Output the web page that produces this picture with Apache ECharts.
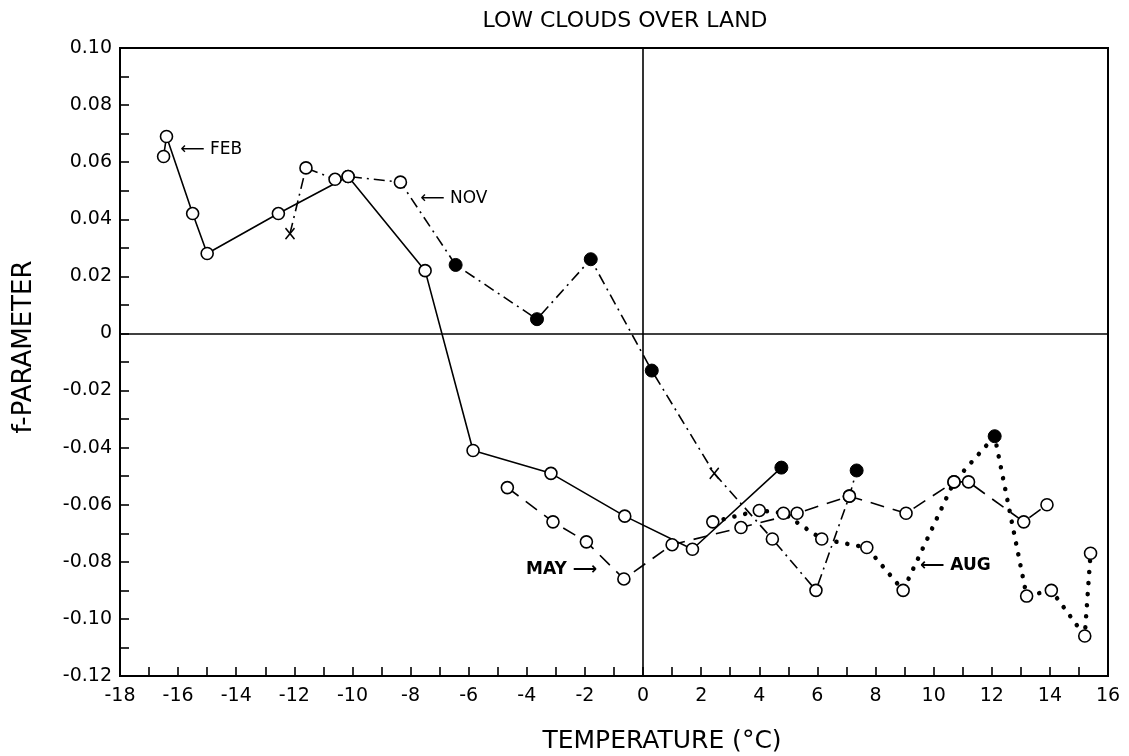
<!DOCTYPE html>
<html>
<head>
<meta charset="utf-8">
<title>Low clouds over land</title>
<script src="https://cdn.jsdelivr.net/npm/echarts@6/dist/echarts.min.js"></script>
<style>
  html, body { margin: 0; padding: 0; background: #fff; }
  #chart { width: 1129px; height: 756px; }
</style>
</head>
<body>
<div id="chart"></div>
<script>
// f-parameter of low clouds over land against temperature, four months.
// Marker kinds: 'open' = open circle, 'solid' = filled circle, 'cross' = x.

const febTemp = [-16.5, -16.4, -15.5, -15.0, -12.55, -10.15, -7.5, -5.85, -3.17, -0.63, 1.7, 4.76];
const febF    = [0.062, 0.069, 0.042, 0.028, 0.042, 0.055, 0.022, -0.041, -0.049, -0.064, -0.0756, -0.047];
const febMark = ['open', 'open', 'open', 'open', 'open', 'open', 'open', 'open', 'open', 'open', 'open', 'solid'];

const novTemp = [-12.15, -11.6, -10.6, -10.15, -8.35, -6.45, -3.65, -1.8, 0.3, 2.45, 4.45, 5.95, 7.1, 7.35];
const novF    = [0.035, 0.058, 0.054, 0.055, 0.053, 0.024, 0.005, 0.026, -0.013, -0.049, -0.072, -0.090, -0.057, -0.048];
const novMark = ['cross', 'open', 'open', 'open', 'open', 'solid', 'solid', 'solid', 'solid', 'cross', 'open', 'open', 'open', 'solid'];

const mayTemp = [-4.67, -3.1, -1.95, -0.66, 1.0, 3.37, 5.3, 7.1, 9.05, 10.7, 11.2, 13.1, 13.9];
const mayF    = [-0.054, -0.066, -0.073, -0.086, -0.074, -0.068, -0.063, -0.057, -0.063, -0.052, -0.052, -0.066, -0.060];
const mayMark = ['open', 'open', 'open', 'open', 'open', 'open', 'open', 'open', 'open', 'open', 'open', 'open', 'open'];

const augTemp = [2.4, 4.0, 4.83, 6.15, 7.7, 8.95, 10.7, 12.1, 13.2, 14.05, 15.2, 15.4];
const augF    = [-0.066, -0.062, -0.063, -0.072, -0.075, -0.090, -0.052, -0.036, -0.092, -0.090, -0.106, -0.077];
const augMark = ['open', 'open', 'open', 'open', 'open', 'open', 'open', 'solid', 'open', 'open', 'open', 'open'];

// month labels with their arrows (anchored at the arrow tip)
const noteText = ['\u27F5 FEB', '\u27F5 NOV', 'MAY \u27F6', '\u27F5 AUG'];
const noteTemp = [-15.93, -7.67, -1.58, 9.53];
const noteF    = [0.0643, 0.0471, -0.0828, -0.0814];
const noteAlign = ['left', 'left', 'right', 'left'];
const noteBold  = [false, false, true, true];

const FONT = 'DejaVu Sans';
const INK = '#000';

const markStyles = {
  open:  { symbol: 'circle', symbolSize: 12, itemStyle: { color: '#fff', borderColor: INK, borderWidth: 1.6 } },
  solid: { symbol: 'circle', symbolSize: 13, itemStyle: { color: INK, borderColor: INK, borderWidth: 1 } },
  cross: { symbol: 'path://M0,0L10,12M10,0L0,12', symbolSize: [9, 11],
           itemStyle: { color: 'none', borderColor: INK, borderWidth: 1.6 } }
};

function points(temps, values, marks) {
  return temps.map((t, i) => {
    const m = markStyles[marks[i]];
    return {
      value: [t, values[i]],
      symbol: m.symbol,
      symbolSize: m.symbolSize,
      itemStyle: m.itemStyle
    };
  });
}

function monthSeries(name, temps, values, marks, lineStyle, extra) {
  return Object.assign({
    name: name,
    type: 'line',
    data: points(temps, values, marks),
    showAllSymbol: true,
    lineStyle: lineStyle,
    emphasis: { disabled: true },
    animation: false,
    z: 3
  }, extra || {});
}

const axisCommon = {
  axisLine: { show: true, onZero: false, lineStyle: { color: INK, width: 2 } },
  axisTick: { show: true, inside: true, length: 9, lineStyle: { color: INK, width: 1.6 } },
  minorTick: { show: true, splitNumber: 2, length: 9, lineStyle: { color: INK, width: 1.6 } },
  splitLine: { show: false },
  minorSplitLine: { show: false }
};

const chart = echarts.init(document.getElementById('chart'), null, { renderer: 'canvas' });

chart.setOption({
  backgroundColor: '#fff',
  animation: false,
  grid: {
    left: 120, right: 21, top: 48, bottom: 80,
    show: true, borderColor: INK, borderWidth: 2, backgroundColor: 'transparent'
  },
  xAxis: Object.assign({
    type: 'value', min: -18, max: 16, interval: 2,
    axisLabel: { color: INK, fontSize: 19, fontFamily: FONT, margin: 11,
                 formatter: v => String(Math.round(v)) }
  }, axisCommon),
  yAxis: Object.assign({
    type: 'value', min: -0.12, max: 0.10, interval: 0.02,
    axisLabel: { color: INK, fontSize: 19, fontFamily: FONT, margin: 8,
                 formatter: v => (Math.abs(v) < 1e-9 ? '0' : v.toFixed(2)) }
  }, axisCommon),
  series: [
    monthSeries('FEB', febTemp, febF, febMark,
      { color: INK, width: 1.6, type: 'solid' },
      { markLine: {
          silent: true, symbol: ['none', 'none'], label: { show: false },
          lineStyle: { color: INK, width: 1.6, type: 'solid' },
          emphasis: { disabled: true },
          data: [{ yAxis: 0 }, { xAxis: 0 }]
        } }),
    monthSeries('NOV', novTemp, novF, novMark,
      { color: INK, width: 1.6, type: [11, 5, 2, 5] }),
    monthSeries('MAY', mayTemp, mayF, mayMark,
      { color: INK, width: 1.6, type: [14, 9] }),
    monthSeries('AUG', augTemp, augF, augMark,
      { color: INK, width: 4.5, type: [0.1, 11], cap: 'round' })
  ]
});

// titles and month labels, placed through the chart's own coordinate mapping
const texts = [
  { type: 'text', x: 625, y: 21,
    style: { text: 'LOW CLOUDS OVER LAND', fill: INK, font: '22px "' + FONT + '"',
             textAlign: 'center', textVerticalAlign: 'middle' } },
  { type: 'text', x: 662, y: 741,
    style: { text: 'TEMPERATURE (\u00B0C)', fill: INK, font: '25px "' + FONT + '"',
             textAlign: 'center', textVerticalAlign: 'middle' } },
  { type: 'text', x: 24, y: 347, rotation: Math.PI / 2,
    style: { text: 'f-PARAMETER', fill: INK, font: '26px "' + FONT + '"',
             textAlign: 'center', textVerticalAlign: 'middle' } }
];
noteText.forEach((txt, i) => {
  const p = chart.convertToPixel({ gridIndex: 0 }, [noteTemp[i], noteF[i]]);
  texts.push({
    type: 'text', x: p[0], y: p[1], z: 10,
    style: {
      text: txt, fill: INK,
      font: (noteBold[i] ? 'bold ' : '') + '17px "' + FONT + '"',
      textAlign: noteAlign[i], textVerticalAlign: 'middle'
    }
  });
});
chart.setOption({ graphic: texts });
</script>
</body>
</html>
